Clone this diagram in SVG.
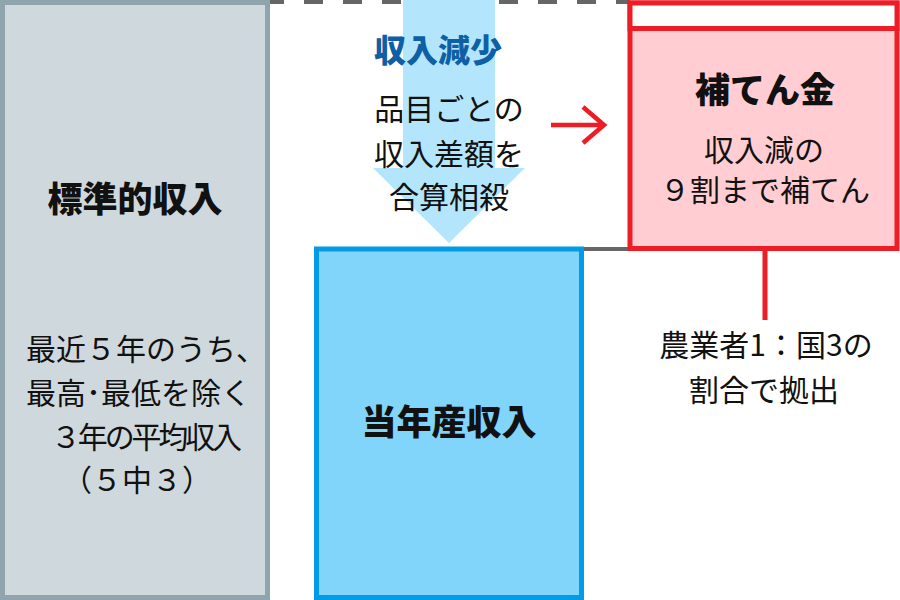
<svg xmlns="http://www.w3.org/2000/svg" width="900" height="600" viewBox="0 0 900 600">
<style>
text{font-family:"Noto Sans CJK JP","Noto Sans",sans-serif;fill:#111}
.b{font-weight:900;font-size:35px;text-anchor:middle}
.r{font-size:30px}
.m{text-anchor:middle}
.red{stroke:#ee1c25;fill:none}
</style>
<rect width="900" height="600" fill="#fff"/>
<g id="connectors">
<line x1="265" y1="2" x2="630" y2="2" stroke="#666" stroke-width="4" stroke-dasharray="19 20"/>
<polygon points="403,0 495,0 495,168 525,168 449,243 373,168 403,168" fill="#b3e5fc"/>
<line x1="582" y1="249" x2="630" y2="249" stroke="#666" stroke-width="4"/>
<path class="red" stroke-width="4.5" d="M551,125H604M583,107L604,125L583,143"/>
<line class="red" x1="765" y1="248" x2="765" y2="320" stroke-width="5"/>
</g>
<g id="standard">
<rect x="2.5" y="2.5" width="265" height="595" fill="#cfd8dc" stroke="#90a4ae" stroke-width="5"/>
<text class="b" x="135" y="212">標準的収入</text>
<text class="r" x="26" y="360">最近５年のうち、</text>
<text class="r" x="26" y="404">最高･最低を除く</text>
<text class="r" x="51" y="448" textLength="191" lengthAdjust="spacing">３年の平均収入</text>
<text class="r m" x="137" y="491">（５中３）</text>
</g>
<g id="decrease">
<text class="b" x="438" y="62" style="fill:#0d5fa6;font-size:32px">収入減少</text>
<text class="r m" x="449" y="120">品目ごとの</text>
<text class="r m" x="449" y="165">収入差額を</text>
<text class="r m" x="449" y="208">合算相殺</text>
</g>
<g id="current">
<rect x="316.5" y="249" width="265" height="348.5" fill="#81d4fa" stroke="#039be5" stroke-width="5"/>
<text class="b" x="449" y="435">当年産収入</text>
</g>
<g id="compensation">
<rect x="630" y="3" width="267" height="245.5" fill="#ffcdd2" stroke="#ee1c25" stroke-width="5"/>
<rect x="630" y="3" width="267" height="25.5" fill="#fff" stroke="#ee1c25" stroke-width="5"/>
<text class="b" x="765" y="103">補てん金</text>
<text class="r m" x="764" y="161">収入減の</text>
<text class="r m" x="765" y="201">９割まで補てん</text>
</g>
<g id="funding">
<text class="r m" x="766" y="356">農業者1：国3の</text>
<text class="r m" x="764" y="401">割合で拠出</text>
</g>
</svg>
